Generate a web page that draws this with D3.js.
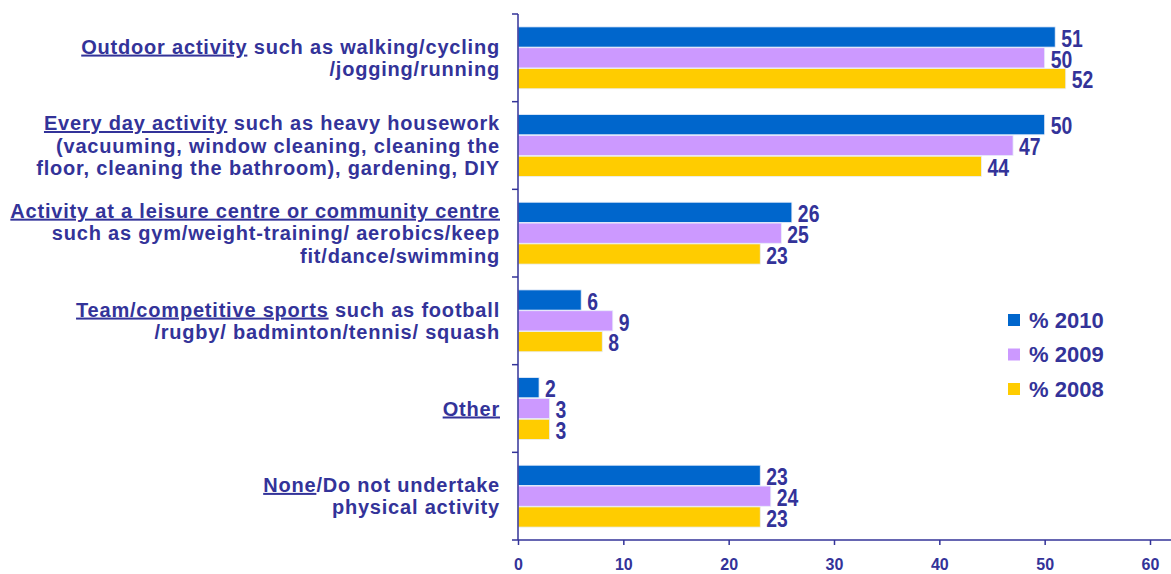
<!DOCTYPE html>
<html>
<head>
<meta charset="utf-8">
<script src="https://cdn.jsdelivr.net/npm/d3@7"></script>
<style>
  body { margin: 0; background: #fff; }
  svg { display: block; font-family: "Liberation Sans", Arial, sans-serif; font-weight: bold; }
</style>
</head>
<body>
<div id="chart"></div>
<script>
const categories = ["Outdoor", "Everyday", "Leisure", "Team", "Other", "None"];

// each line is a list of [text, underlined]
const categoryLabels = [
  [[["Outdoor activity", true], [" such as walking/cycling", false]],
   [["/jogging/running", false]]],
  [[["Every day activity", true], [" such as heavy housework", false]],
   [["(vacuuming, window cleaning, cleaning the", false]],
   [["floor, cleaning the bathroom), gardening, DIY", false]]],
  [[["Activity at a leisure centre or community centre", true]],
   [["such as gym/weight-training/ aerobics/keep", false]],
   [["fit/dance/swimming", false]]],
  [[["Team/competitive sports", true], [" such as football", false]],
   [["/rugby/ badminton/tennis/ squash", false]]],
  [[["Other", true]]],
  [[["None", true], ["/Do not undertake", false]],
   [["physical activity", false]]]
];

const seriesNames = ["% 2010", "% 2009", "% 2008"];
const values2010 = [51, 50, 26, 6, 2, 23];
const values2009 = [50, 47, 25, 9, 3, 24];
const values2008 = [52, 44, 23, 8, 3, 23];
const xTicks = [0, 10, 20, 30, 40, 50, 60];

const colors = ["#0066CC", "#CC99FF", "#FFCC00"];
const ink = "#333399";

const width = 1171, height = 574;
const margin = { top: 14, right: 21, bottom: 34, left: 518 };

const svg = d3.select("#chart").append("svg")
  .attr("width", width)
  .attr("height", height);

const x = d3.scaleLinear().domain([0, 60]).range([margin.left, width - margin.right]);
const y = d3.scaleBand().domain(categories)
  .range([margin.top, height - margin.bottom])
  .paddingInner(0.28).paddingOuter(0.14);
const ySub = d3.scaleBand().domain(seriesNames).range([0, y.bandwidth()]).padding(0.03);

const allSeries = [values2010, values2009, values2008];
const rows = [];
categories.forEach((c, i) => {
  seriesNames.forEach((s, j) => rows.push({ cat: c, series: s, j, value: allSeries[j][i] }));
});

// bars
svg.append("g").selectAll("rect")
  .data(rows)
  .join("rect")
  .attr("x", x(0))
  .attr("y", d => y(d.cat) + ySub(d.series))
  .attr("width", d => x(d.value) - x(0))
  .attr("height", ySub.bandwidth())
  .attr("fill", d => colors[d.j])
  .attr("stroke", "#e8eefa")
  .attr("stroke-width", 0.8);

// value labels (tall, condensed look)
svg.append("g").selectAll("text")
  .data(rows)
  .join("text")
  .attr("transform", d => `translate(${x(d.value) + 6},${y(d.cat) + ySub(d.series) + ySub.bandwidth() / 2}) scale(0.88,1.06)`)
  .attr("dy", "0.42em")
  .attr("fill", ink)
  .style("font-size", "22px")
  .text(d => d.value);

// x axis
const xAxis = svg.append("g")
  .attr("transform", `translate(0,${height - margin.bottom})`)
  .call(d3.axisBottom(x).tickValues(xTicks).tickSize(5).tickPadding(14));
xAxis.selectAll("text").attr("fill", ink).style("font-size", "16px").style("font-weight", "bold");
xAxis.selectAll("line, path").attr("stroke", ink).attr("stroke-width", 1.5);
xAxis.select(".domain").attr("d", `M${x(0)},0H${width}`);

// y axis with ticks at category boundaries
const yAxisG = svg.append("g").attr("transform", `translate(${x(0)},0)`);
const [y0, y1] = y.range();
yAxisG.append("line").attr("x1", 0).attr("x2", 0).attr("y1", y0).attr("y2", y1)
  .attr("stroke", ink).attr("stroke-width", 1.5);
const bounds = categories.map(c => y(c) - y.step() * y.paddingInner() / 2);
bounds[0] = y0;
bounds.push(y1);
yAxisG.selectAll("line.tick").data(bounds).join("line")
  .attr("class", "tick")
  .attr("x1", -6).attr("x2", 0)
  .attr("y1", d => d).attr("y2", d => d)
  .attr("stroke", ink).attr("stroke-width", 1.5);

// category labels
const lineH = 22.5;
const labelG = svg.append("g");
categories.forEach((c, i) => {
  const lines = categoryLabels[i];
  const cy = y(c) + y.bandwidth() / 2;
  const startY = cy - (lines.length - 1) * lineH / 2;
  const t = labelG.append("text")
    .attr("text-anchor", "end")
    .attr("fill", ink)
    .style("font-size", "20px")
    .style("letter-spacing", "0.8px");
  lines.forEach((segs, k) => {
    segs.forEach((seg, m) => {
      const ts = t.append("tspan").text(seg[0]);
      if (m === 0) ts.attr("x", 500).attr("y", startY + k * lineH).attr("dy", "0.35em");
      if (seg[1]) ts.style("text-decoration", "underline");
    });
  });
});

// legend
const legend = svg.append("g").attr("transform", "translate(1008,320)");
seriesNames.forEach((s, j) => {
  const g = legend.append("g").attr("transform", `translate(0,${j * 34.5})`);
  g.append("rect").attr("x", 0).attr("y", -6).attr("width", 12).attr("height", 12).attr("fill", colors[j]);
  g.append("text").attr("x", 21).attr("dy", "0.36em").attr("fill", ink)
    .style("font-size", "22px").text(s);
});
</script>
</body>
</html>
